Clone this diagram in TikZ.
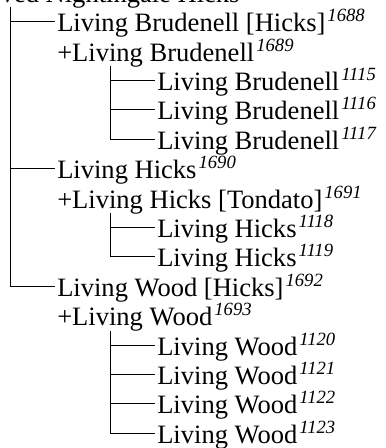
\documentclass[tikz,border=0pt]{standalone}
\usepackage{fontspec}
\setmainfont{Liberation Serif}
\usetikzlibrary{positioning}
\newcommand{\refno}[1]{\kern1.5pt\raisebox{7.5pt}{\fontsize{14}{14}\selectfont\itshape #1}}

\begin{document}
\begin{tikzpicture}[
  x=0.75pt, y=-0.75pt,
  person/.style={anchor=west, inner xsep=1.5pt, inner ysep=0pt, text height=15pt, text depth=0pt, font=\fontsize{19.9}{24}\selectfont},
  branch/.style={draw=black, line width=0.75pt}
]
  \useasboundingbox (0,0) rectangle (385,448);
  \clip (0,0) rectangle (385,448);

  \node[person] (root) at (-1.5,-7.2) {ved Nightingale Hicks};
  \coordinate (top) at (10,7);

  \node[person] (bru) at (55,21.7) {Living Brudenell [Hicks]\refno{1688}};
  \node[person] (brup) at (55,51.1) {+Living Brudenell\refno{1689}};
  \coordinate (brutop) at (110,66.5);
  \node[person] (b1115) at (155,80.5) {Living Brudenell\refno{1115}};
  \node[person] (b1116) at (155,109.9) {Living Brudenell\refno{1116}};
  \node[person] (b1117) at (155,139.3) {Living Brudenell\refno{1117}};

  \node[person] (hic) at (55,168.7) {Living Hicks\refno{1690}};
  \node[person] (hicp) at (55,198.1) {+Living Hicks [Tondato]\refno{1691}};
  \coordinate (hictop) at (110,213.5);
  \node[person] (h1118) at (155,227.5) {Living Hicks\refno{1118}};
  \node[person] (h1119) at (155,256.9) {Living Hicks\refno{1119}};

  \node[person] (woo) at (55,286.3) {Living Wood [Hicks]\refno{1692}};
  \node[person] (woop) at (55,315.7) {+Living Wood\refno{1693}};
  \coordinate (wootop) at (110,331.1);
  \node[person] (w1120) at (155,345.1) {Living Wood\refno{1120}};
  \node[person] (w1121) at (155,374.5) {Living Wood\refno{1121}};
  \node[person] (w1122) at (155,403.9) {Living Wood\refno{1122}};
  \node[person] (w1123) at (155,433.3) {Living Wood\refno{1123}};

  % Children of the root
  \draw[branch] (top) |- (woo.west);
  \draw[branch] (top |- bru.west) -- (bru.west);
  \draw[branch] (top |- hic.west) -- (hic.west);

  % Children of each couple
  \draw[branch] (brutop) |- (b1117.west);
  \draw[branch] (brutop |- b1115.west) -- (b1115.west);
  \draw[branch] (brutop |- b1116.west) -- (b1116.west);

  \draw[branch] (hictop) |- (h1119.west);
  \draw[branch] (hictop |- h1118.west) -- (h1118.west);

  \draw[branch] (wootop) |- (w1123.west);
  \draw[branch] (wootop |- w1120.west) -- (w1120.west);
  \draw[branch] (wootop |- w1121.west) -- (w1121.west);
  \draw[branch] (wootop |- w1122.west) -- (w1122.west);
\end{tikzpicture}
\end{document}
